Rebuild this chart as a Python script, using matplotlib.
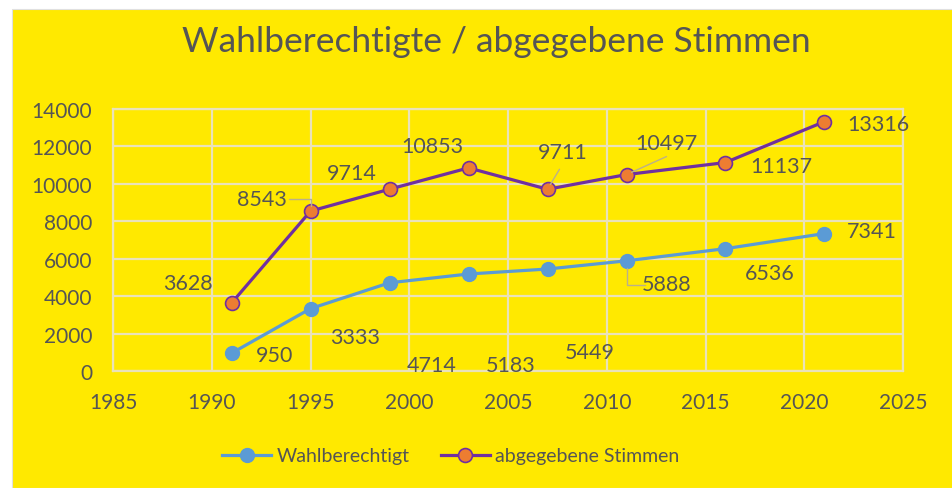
import matplotlib
matplotlib.use('Agg')
import matplotlib.pyplot as plt
from matplotlib.patches import Rectangle

plt.rcParams['font.family'] = ['Lato', 'DejaVu Sans']

jahre = [1991, 1995, 1999, 2003, 2007, 2011, 2016, 2021]
wahlberechtigt = [950, 3333, 4714, 5183, 5449, 5888, 6536, 7341]
abgegeben = [3628, 8543, 9714, 10853, 9711, 10497, 11137, 13316]

# Versatz der Beschriftungen in Pixeln (x, y)
off_blau = [(43, -2), (45, -28), (42, -82), (42, -91), (42, -83), (40, -23), (44, -24), (48, 3)]
off_lila = [(-44, 20), (-49, 12), (-38, 16), (-36, 22), (15, 37), (40, 32), (56, -3), (54, -2)]

gelb = '#FFE900'
grau = '#555555'
gitter = '#EAE2BA'
blau = '#5B9BD5'
lila = '#7030A0'
orange = '#ED7D31'

fig = plt.figure(figsize=(9.52, 4.89), dpi=100)
fig.patch.set_facecolor('white')
fig.patches.append(Rectangle((12 / 952, 0), 1, 1 - 10 / 489, transform=fig.transFigure,
                             facecolor=gelb, edgecolor='#E0E0E0', lw=0.8, zorder=-1))

ax = fig.add_axes([113 / 952, 1 - 372 / 489, (903 - 113) / 952, (372 - 110) / 489])
ax.set_facecolor(gelb)

ax.plot(jahre, wahlberechtigt, color=blau, lw=2.3, marker='o', ms=10,
        mfc=blau, mec=blau, label='Wahlberechtigt', zorder=3)
ax.plot(jahre, abgegeben, color=lila, lw=2.3, marker='o', ms=10,
        mfc=orange, mec=lila, mew=1.2, label='abgegebene Stimmen', zorder=3)

for x, y, o in zip(jahre, wahlberechtigt, off_blau):
    ax.annotate(str(y), (x, y), xytext=o, textcoords='offset pixels', ha='center', va='center',
                fontsize=15.5, color=grau)
for x, y, o in zip(jahre, abgegeben, off_lila):
    ax.annotate(str(y), (x, y), xytext=o, textcoords='offset pixels', ha='center', va='center',
                fontsize=15.5, color=grau)

# Hinweislinien
ax.annotate('', (1995, 8543), xytext=(-22, 12), textcoords='offset pixels',
            arrowprops=dict(arrowstyle='-', color='#BBB08A', lw=1, shrinkA=0, shrinkB=4,
                            connectionstyle='angle,angleA=0,angleB=90,rad=0'))
ax.annotate('', (2007, 9711), xytext=(12, 20), textcoords='offset pixels',
            arrowprops=dict(arrowstyle='-', color='#BBB08A', lw=1, shrinkA=0, shrinkB=4))
ax.annotate('', (2011, 10497), xytext=(40, 18), textcoords='offset pixels',
            arrowprops=dict(arrowstyle='-', color='#BBB08A', lw=1, shrinkA=0, shrinkB=4))
ax.annotate('', (2011, 5888), xytext=(18, -24), textcoords='offset pixels',
            arrowprops=dict(arrowstyle='-', color='#BBB08A', lw=1, shrinkA=0, shrinkB=5,
                            connectionstyle='angle,angleA=0,angleB=90,rad=0'))

ax.set_xlim(1985, 2025)
ax.set_ylim(0, 14000)
ax.set_xticks(range(1985, 2026, 5))
ax.set_yticks(range(0, 14001, 2000))
ax.grid(True, color=gitter, lw=1.6, zorder=0)
ax.set_axisbelow(True)
for s in ax.spines.values():
    s.set_color(gitter)
    s.set_linewidth(1.6)
ax.tick_params(length=0, labelsize=15, labelcolor=grau)
ax.tick_params(axis='y', pad=15)
ax.tick_params(axis='x', pad=15)

fig.text(496 / 952, 1 - 42 / 489, 'Wahlberechtigte / abgegebene Stimmen', ha='center', va='center',
         fontsize=25.5, color=grau)

fig.legend(loc='center', bbox_to_anchor=(451 / 952, 1 - 457 / 489), ncol=2, frameon=False,
           fontsize=14, labelcolor=grau, handlelength=2.5, handletextpad=0.3, columnspacing=1.6)

fig.savefig('out.png', dpi=100, facecolor=fig.get_facecolor())
